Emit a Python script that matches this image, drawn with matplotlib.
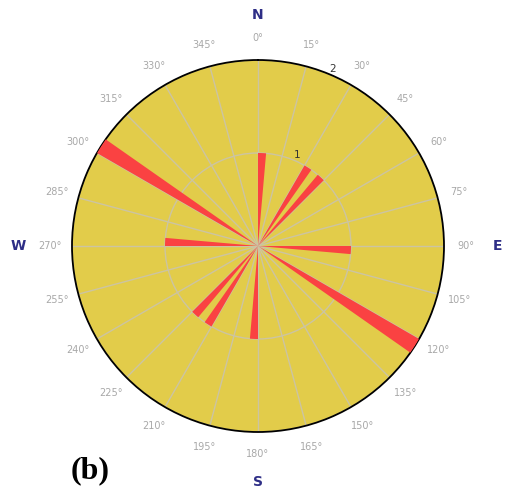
import numpy as np
import matplotlib
matplotlib.use("Agg")
import matplotlib.pyplot as plt

# Rose diagram of orientations, 5-degree bins (bidirectional)
bin_start_deg = [0, 30, 40, 90, 120, 180, 210, 220, 270, 300]
counts = [1, 1, 1, 1, 2, 1, 1, 1, 1, 2]
bin_width_deg = 5

tick_angles = list(range(0, 360, 15))
tick_labels = [f"{a}°" for a in tick_angles]
radial_ticks = [1, 2]
compass = {"N": 0, "E": 90, "S": 180, "W": 270}

YELLOW = "#E2CC4A"
RED = "#FA4242"
GRID = "#CCC4A2"

fig = plt.figure(figsize=(5.05, 4.98), dpi=100)
ax = fig.add_axes([72 / 505, 66 / 498, 372 / 505, 372 / 498], projection="polar")
ax.set_theta_zero_location("N")
ax.set_theta_direction(-1)
ax.set_facecolor(YELLOW)

theta = np.deg2rad(bin_start_deg)
ax.bar(theta, counts, width=np.deg2rad(bin_width_deg), align="edge",
       color=RED, edgecolor="none", zorder=3)

ax.set_ylim(0, 2)
ax.set_yticks(radial_ticks)
ax.set_yticklabels([str(t) for t in radial_ticks], fontsize=7.5, color="#333333")
ax.set_rlabel_position(22.5)
ax.set_xticks(np.deg2rad(tick_angles))
ax.set_xticklabels([])
ax.grid(True, color=GRID, linewidth=1.0)
ax.spines["polar"].set_color("black")
ax.spines["polar"].set_linewidth(1.3)

# Angular tick labels placed outside the rim
for a, lab in zip(tick_angles, tick_labels):
    ax.text(np.deg2rad(a), 2.24, lab, ha="center", va="center",
            fontsize=7, color="#A8A8A8", clip_on=False)

# Compass directions
cx, cy = 258, 246
offsets = {"N": (0, -231), "E": (239, 0), "S": (0, 236), "W": (-240, 0)}
for k in compass:
    dx, dy = offsets[k]
    fig.text((cx + dx) / 505, 1 - (cy + dy) / 498, k, ha="center", va="center",
             fontsize=10, fontweight="bold", color="#2E2E86")

fig.text(90 / 505, 1 - 471 / 498, "(b)", ha="center", va="center",
         fontsize=23, fontweight="bold", family="Liberation Serif", color="black")

fig.savefig("out.png", dpi=100, facecolor="white")
